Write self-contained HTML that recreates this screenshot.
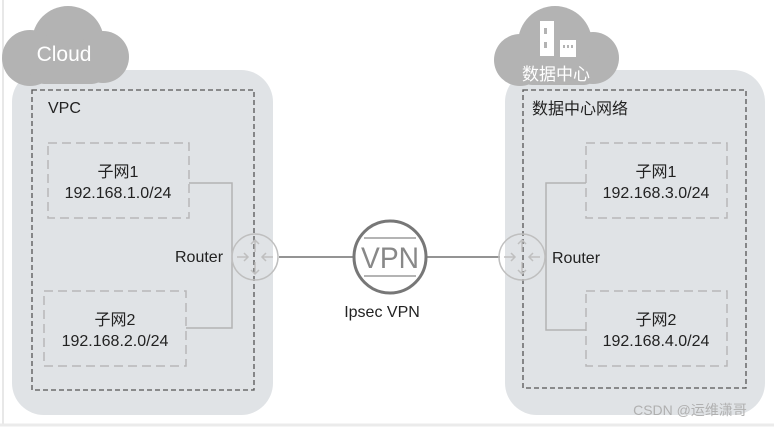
<!DOCTYPE html>
<html><head><meta charset="utf-8"><style>
body{margin:0;background:#fff;}
svg text{font-family:"Liberation Sans","Noto Sans CJK SC",sans-serif;}
</style></head><body>
<svg width="774" height="428" viewBox="0 0 774 428" xmlns="http://www.w3.org/2000/svg">
<rect x="0" y="0" width="774" height="428" fill="#fff"/>
<line x1="3" y1="0" x2="3" y2="424" stroke="#e0e0e0" stroke-width="1.5"/>
<line x1="0" y1="425" x2="774" y2="425" stroke="#ebebeb" stroke-width="3"/>
<rect x="12" y="70" width="261" height="345" rx="32" fill="#e0e3e6"/>
<rect x="505" y="70" width="260" height="345" rx="32" fill="#e0e3e6"/>
<g fill="#b3b3b3">
<circle cx="68" cy="42" r="36"/>
<circle cx="30" cy="58" r="28"/>
<circle cx="103" cy="57" r="26"/>
<rect x="30" y="52" width="76" height="32" rx="14"/>
</g>
<text x="64" y="61" font-size="21" fill="#fff" text-anchor="middle">Cloud</text>
<g fill="#b3b3b3">
<circle cx="555" cy="43" r="37"/>
<circle cx="520" cy="60" r="26"/>
<circle cx="593" cy="58" r="26"/>
<rect x="520" y="55" width="76" height="30" rx="12"/>
</g>
<g fill="#fff">
<rect x="540" y="21" width="14" height="35"/>
<rect x="560" y="40" width="16" height="17"/>
</g>
<g fill="#b3b3b3">
<rect x="544" y="28" width="3" height="6"/><rect x="544" y="42" width="3" height="6"/>
<rect x="563" y="45" width="2" height="3"/><rect x="567" y="45" width="2" height="3"/><rect x="571" y="45" width="2" height="3"/>
</g>
<text x="556" y="80" font-size="17" fill="#fff" text-anchor="middle">数据中心</text>
<rect x="32" y="90" width="222" height="300" fill="none" stroke="#555" stroke-width="1.3" stroke-dasharray="5,3"/>
<rect x="523" y="90" width="223" height="298" fill="none" stroke="#555" stroke-width="1.3" stroke-dasharray="5,3"/>
<text x="48" y="113" font-size="16" fill="#222">VPC</text>
<text x="532" y="114" font-size="16" fill="#222">数据中心网络</text>
<g fill="none" stroke="#b8b8b8" stroke-width="1.5" stroke-dasharray="9,5">
<rect x="48" y="143" width="141" height="75"/>
<rect x="44" y="291" width="142" height="75"/>
<rect x="586" y="143" width="141" height="75"/>
<rect x="586" y="291" width="141" height="75"/>
</g>
<g font-size="16" fill="#222" text-anchor="middle">
<text x="118" y="177">子网1</text><text x="118" y="198">192.168.1.0/24</text>
<text x="115" y="325">子网2</text><text x="115" y="346">192.168.2.0/24</text>
<text x="656" y="177">子网1</text><text x="656" y="198">192.168.3.0/24</text>
<text x="656" y="325">子网2</text><text x="656" y="346">192.168.4.0/24</text>
</g>
<g fill="none" stroke="#b3b3b3" stroke-width="1.5">
<polyline points="189,183 232,183 232,328 186,328"/>
<polyline points="586,183 546,183 546,330 586,330"/>
</g>
<line x1="279" y1="257" x2="353" y2="257" stroke="#555" stroke-width="1.2"/>
<line x1="427" y1="257" x2="500" y2="257" stroke="#555" stroke-width="1.2"/>
<g fill="none" stroke="#bfbfbf" stroke-width="1.5">
<circle cx="255" cy="257" r="23"/>
<circle cx="522" cy="257" r="23"/>
<path d="M255 240v12M251 244l4-4 4 4M255 274v-12M251 270l4 4 4-4M237 257h11M244 253l4 4-4 4M273 257h-11M266 253l-4 4 4 4"/>
<path d="M522 240v12M518 244l4-4 4 4M522 274v-12M518 270l4 4 4-4M504 257h11M511 253l4 4-4 4M540 257h-11M533 253l-4 4 4 4"/>
</g>
<text x="175" y="262" font-size="16" fill="#222">Router</text>
<text x="552" y="263" font-size="16" fill="#222">Router</text>
<circle cx="390" cy="257" r="36" fill="#fff" stroke="#777" stroke-width="3"/>
<g fill="none" stroke="#888" stroke-width="1.3">
<path d="M364 238h52"/>
<path d="M364 276h52"/>
</g>
<text x="390" y="268" font-size="30" fill="#888" text-anchor="middle" textLength="58" lengthAdjust="spacingAndGlyphs">VPN</text>
<text x="382" y="317" font-size="16" fill="#222" text-anchor="middle">Ipsec VPN</text>
<text x="690" y="415" font-size="14" fill="#b0b0b0" text-anchor="middle">CSDN @运维潇哥</text>
</svg>
</body></html>
